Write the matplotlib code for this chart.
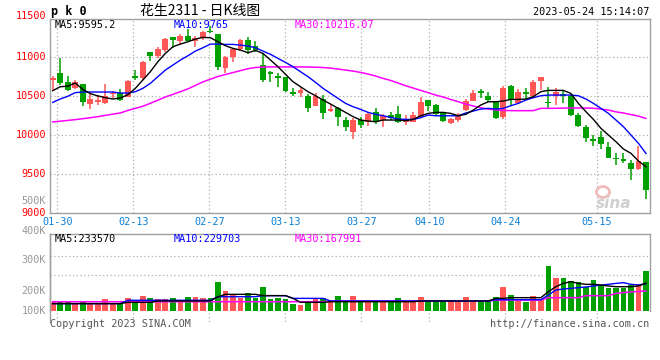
import matplotlib
matplotlib.use("Agg")
import matplotlib.pyplot as plt
import numpy as np
from matplotlib.lines import Line2D
from matplotlib.patches import Ellipse
from matplotlib.transforms import IdentityTransform

# ---------------- data ----------------
opens = [10705,10800,10685,10610,10657,10400,10428,10418,10535,10546,
         10495,10760,10740,11064,11021,11094,11257,11210,11274,11214,
         11244,11338,11300,10859,11000,11107,11223,11146,10901,10806,
         10752,10743,10548,10537,10503,10379,10465,10310,10353,10195,
         10045,10195,10165,10293,10195,10259,10272,10165,10173,10238,
         10452,10388,10293,10161,10195,10323,10443,10562,10503,10422,
         10238,10632,10418,10559,10503,10696,10422,10503,10520,10503,
         10259,10101,9940,9972,9852,9705,9689,9638,9565,9659]
highs = [10760,10995,10765,10715,10660,10525,10515,10653,10567,10593,
         10710,10837,10957,11064,11137,11244,11257,11300,11364,11274,
         11338,11400,11300,11017,11116,11236,11257,11210,11051,10824,
         10803,10752,10602,10623,10529,10546,10516,10396,10366,10229,
         10225,10229,10280,10345,10267,10293,10375,10259,10293,10495,
         10452,10400,10302,10216,10280,10465,10580,10593,10559,10439,
         10632,10645,10589,10602,10709,10747,10615,10602,10572,10516,
         10280,10131,10002,10053,9916,9766,9775,9681,9865,9660]
lows = [10580,10650,10570,10595,10380,10340,10390,10400,10473,10440,
        10486,10710,10710,10957,10987,11073,11116,11158,11205,11137,
        11223,11308,10837,10803,10944,11086,11039,11073,10687,10679,
        10623,10550,10503,10495,10302,10379,10208,10293,10122,10058,
        9945,10088,10122,10143,10109,10195,10152,10131,10165,10229,
        10310,10250,10173,10143,10173,10310,10439,10482,10422,10208,
        10203,10388,10400,10465,10495,10580,10353,10388,10409,10250,
        10100,9908,9865,9818,9702,9617,9638,9424,9552,9180]
closes = [10730,10665,10580,10680,10422,10465,10450,10503,10540,10452,
          10700,10740,10944,11017,11107,11236,11227,11278,11210,11244,
          11330,11330,10880,11000,11107,11223,11094,11094,10709,10800,
          10740,10572,10542,10580,10353,10503,10289,10336,10238,10109,
          10195,10131,10272,10182,10250,10216,10165,10203,10259,10422,
          10379,10268,10182,10208,10250,10439,10537,10555,10452,10225,
          10602,10452,10559,10525,10687,10747,10418,10559,10512,10259,
          10122,9968,9935,9886,9711,9698,9668,9565,9668,9300]

ma5 = [10572,10623,10630,10671,10590,10535,10505,10483,10465,10478,
       10520,10602,10709,10816,10944,11051,11137,11171,11201,11236,
       11257,11253,11201,11150,11116,11094,11060,11090,11051,10966,
       10880,10782,10687,10623,10559,10507,10452,10400,10345,10293,
       10238,10195,10182,10173,10195,10195,10195,10186,10203,10250,
       10280,10293,10293,10280,10250,10268,10323,10388,10430,10430,
       10439,10460,10460,10465,10495,10559,10576,10576,10576,10537,
       10409,10302,10203,10088,10002,9916,9822,9767,9668,9595]
ma10 = [10422,10465,10500,10547,10555,10555,10555,10555,10555,10542,
        10542,10559,10602,10666,10752,10837,10901,10966,11021,11081,
        11124,11171,11171,11167,11167,11158,11146,11124,11081,11039,
        10987,10936,10880,10816,10752,10679,10602,10537,10473,10409,
        10366,10332,10293,10268,10250,10229,10208,10203,10203,10225,
        10259,10250,10250,10250,10250,10285,10310,10336,10345,10336,
        10345,10379,10409,10452,10482,10507,10516,10516,10516,10516,
        10507,10465,10409,10345,10280,10195,10109,10002,9895,9765]
ma30 = [10171,10180,10190,10200,10212,10225,10238,10255,10270,10286,
        10318,10345,10372,10410,10450,10491,10525,10560,10595,10640,
        10685,10720,10755,10780,10805,10830,10855,10870,10876,10878,
        10878,10878,10878,10878,10876,10874,10870,10862,10850,10837,
        10824,10807,10786,10760,10730,10704,10670,10636,10606,10576,
        10546,10516,10490,10460,10430,10400,10375,10353,10335,10325,
        10318,10316,10315,10315,10316,10345,10345,10346,10348,10350,
        10350,10349,10346,10336,10323,10300,10285,10265,10245,10216]

# volume in thousands
volume = [73,84,84,64,84,64,64,104,56,56,
          112,64,129,112,101,101,109,78,120,120,
          106,106,246,168,132,106,148,112,204,101,
          112,101,59,50,73,112,112,84,126,84,
          126,84,84,84,78,73,109,84,92,120,
          92,92,84,73,73,120,84,78,92,120,
          204,134,84,78,126,92,381,274,274,252,
          246,204,260,218,196,196,190,218,224,336]
vma5 = [62,62,62,62,62,62,62,62,62,62,
        73,73,73,73,84,84,84,84,84,84,
        84,84,120,140,140,140,140,140,129,129,
        129,129,106,73,73,73,73,78,78,78,
        78,78,78,78,78,78,78,78,78,84,
        84,84,84,84,84,84,84,84,84,106,
        106,112,112,112,112,112,162,204,232,246,
        232,224,224,218,210,204,204,204,210,234]
vma10 = [62,62,62,62,62,62,62,62,62,62,
         90,90,90,90,90,90,90,90,90,90,
         90,90,120,120,120,120,120,120,129,129,
         129,129,106,106,106,106,106,84,84,84,
         84,84,84,84,84,84,84,84,84,84,
         84,84,84,84,84,84,84,84,84,95,
         95,95,95,95,95,95,134,176,185,190,
         196,202,210,218,224,232,238,224,218,230]
vma30 = [78,78,78,78,78,78,78,78,78,78,
         78,78,78,78,78,78,78,78,78,78,
         78,78,78,78,78,78,78,78,78,78,
         78,78,78,78,78,78,78,84,84,84,
         84,84,84,84,84,84,84,84,84,84,
         84,84,84,84,84,84,84,84,84,92,
         92,92,92,92,92,92,112,112,112,112,
         112,129,129,129,129,148,155,160,164,168]

tick_labels = ["01-30","02-13","02-27","03-13","03-27","04-10","04-24","05-15"]
tick_px = [57.3,133.3,209.3,285.3,361.3,429.3,505.3,596.7]
price_ticks = [11500,11000,10500,10000,9500,9000]
vol_labels = ["500K","400K","300K","200K","100K"]
vol_label_py = [200.7,231,260,291,311]

# ---------------- layout ----------------
W, H = 660, 360
fig = plt.figure(figsize=(W/100, H/100), dpi=100)
fig.patch.set_facecolor("white")

def fx(px): return px / W
def fy(py): return 1 - py / H

RED = "#ff5656"
GREEN = "#00a000"
GRID = "#b0b0b0"
SPINE = "#a0a0a0"
MONO = "DejaVu Sans Mono"

x0, x1 = 50, 650
slot = 7.51
c0 = 52.7
xlim = ((x0 - c0)/slot, (x1 - c0)/slot)
tick_pos = [(p - c0)/slot for p in tick_px]

main_top, main_bot = 18.5, 213
ax = fig.add_axes([fx(x0), fy(main_bot), (x1-x0)/W, (main_bot-main_top)/H])
ax.set_xlim(*xlim)
ax.set_ylim(9000, 11500)
ax.set_xticks([]); ax.set_yticks([])
for s in ax.spines.values():
    s.set_color(SPINE); s.set_linewidth(1.0)

for p in [11000,10500,10000,9500]:
    ax.axhline(p, color=GRID, lw=0.9, ls=(0,(1,2)), zorder=0)
for t in tick_pos:
    ax.axvline(t, color=GRID, lw=0.9, ls=(0,(1,2)), zorder=0)

n = len(closes)
idx = np.arange(n)
min_body = 22
for i in range(n):
    o, h, l, c = opens[i], highs[i], lows[i], closes[i]
    col = RED if c >= o else GREEN
    ax.vlines(i, l, h, color=col, lw=1.1, zorder=2)
    b = min(o, c); hgt = abs(c - o)
    if hgt < min_body:
        b = (o + c)/2 - min_body/2; hgt = min_body
    ax.bar(i, hgt, bottom=b, width=0.78, color=col, zorder=3, linewidth=0)

ax.plot(idx, ma30, color="#ff00ff", lw=1.1, zorder=4)
ax.plot(idx, ma10, color="#0000ff", lw=1.0, zorder=5)
ax.plot(idx, ma5, color="black", lw=1.0, zorder=6)

# watermark (logo as a shape, word as text)
logo = Ellipse((603, H - 192), 13, 11, transform=IdentityTransform(),
               facecolor="none", edgecolor="#f0bcbc", lw=2.0, zorder=1)
fig.add_artist(logo)
fig.text(fx(614), fy(204), "sina", fontsize=11, color="#cfcfcf", style="italic",
         fontweight="bold", ha="center", va="center", family="DejaVu Sans")

# ---------------- volume ----------------
vol_top, vol_bot = 234.3, 311
vscale = 8.4  # K per pixel
axv = fig.add_axes([fx(x0), fy(vol_bot), (x1-x0)/W, (vol_bot-vol_top)/H])
axv.set_xlim(*xlim)
axv.set_ylim(0, (vol_bot - vol_top)*vscale)
axv.set_xticks([]); axv.set_yticks([])
for s in axv.spines.values():
    s.set_color(SPINE); s.set_linewidth(1.0)
axv.spines["bottom"].set_visible(False)
for py in [255.7, 275]:
    axv.axhline((vol_bot - py)*vscale, color=GRID, lw=0.9, ls=(0,(1,2)), zorder=0)
for t in tick_pos:
    px = c0 + t*slot
    fig.add_artist(Line2D([fx(px), fx(px)], [fy(vol_top), fy(321.5)], color=GRID,
                          lw=0.9, ls=(0,(1,2)), zorder=0))
fig.add_artist(Line2D([fx(x0), fx(x0)], [fy(vol_top), fy(321.5)], color=SPINE, lw=1.0))

vcols = [RED if closes[i] >= opens[i] else GREEN for i in range(n)]
axv.bar(idx, volume, width=0.76, color=vcols, linewidth=0, zorder=2)
axv.plot(idx, vma30, color="#ff00ff", lw=1.1, zorder=4)
axv.plot(idx, vma10, color="#0000ff", lw=1.0, zorder=5)
axv.plot(idx, vma5, color="black", lw=1.0, zorder=6)

# ---------------- texts ----------------
fs = 7.3
for p in price_ticks:
    py = main_bot - (p - 9000) / 2500 * (main_bot - main_top)
    if p == 11500:
        py = 16
    fig.text(fx(46), fy(py), str(p), color="#ff0000", fontsize=fs, family=MONO,
             ha="right", va="center")
for lab, py in zip(vol_labels, vol_label_py):
    fig.text(fx(46), fy(py), lab, color="#999999", fontsize=fs, family=MONO,
             ha="right", va="center")
for lab, px in zip(tick_labels, tick_px):
    fig.text(fx(px), fy(221.7), lab, color="#0a7fd6", fontsize=fs, family=MONO,
             ha="center", va="center")

fig.text(fx(55), fy(24.5), "MA5:9595.2", color="black", fontsize=fs, family=MONO, va="center")
fig.text(fx(174), fy(24.5), "MA10:9765", color="#0000ff", fontsize=fs, family=MONO, va="center")
fig.text(fx(295), fy(24.5), "MA30:10216.07", color="#ff00ff", fontsize=fs, family=MONO, va="center")
fig.text(fx(55), fy(239.5), "MA5:233570", color="black", fontsize=fs, family=MONO, va="center")
fig.text(fx(174), fy(239.5), "MA10:229703", color="#0000ff", fontsize=fs, family=MONO, va="center")
fig.text(fx(295), fy(239.5), "MA30:167991", color="#ff00ff", fontsize=fs, family=MONO, va="center")

fig.text(fx(51), fy(11), "p k 0", color="black", fontsize=8.5, family=MONO,
         fontweight="bold", va="center")
fig.text(fx(140), fy(11), "花生2311 - 日K线图", color="black", fontsize=10,
         family=["Noto Sans CJK SC", "DejaVu Sans"], va="center")
fig.text(fx(649), fy(12.3), "2023-05-24 15:14:07", color="black", fontsize=fs,
         family=MONO, ha="right", va="center")
fig.text(fx(50), fy(324), "Copyright 2023 SINA.COM", color="#555555", fontsize=fs,
         family=MONO, va="center")
fig.text(fx(649), fy(324), "http://finance.sina.com.cn", color="#555555", fontsize=fs,
         family=MONO, ha="right", va="center")

fig.savefig("out.png", dpi=100, facecolor="white")
